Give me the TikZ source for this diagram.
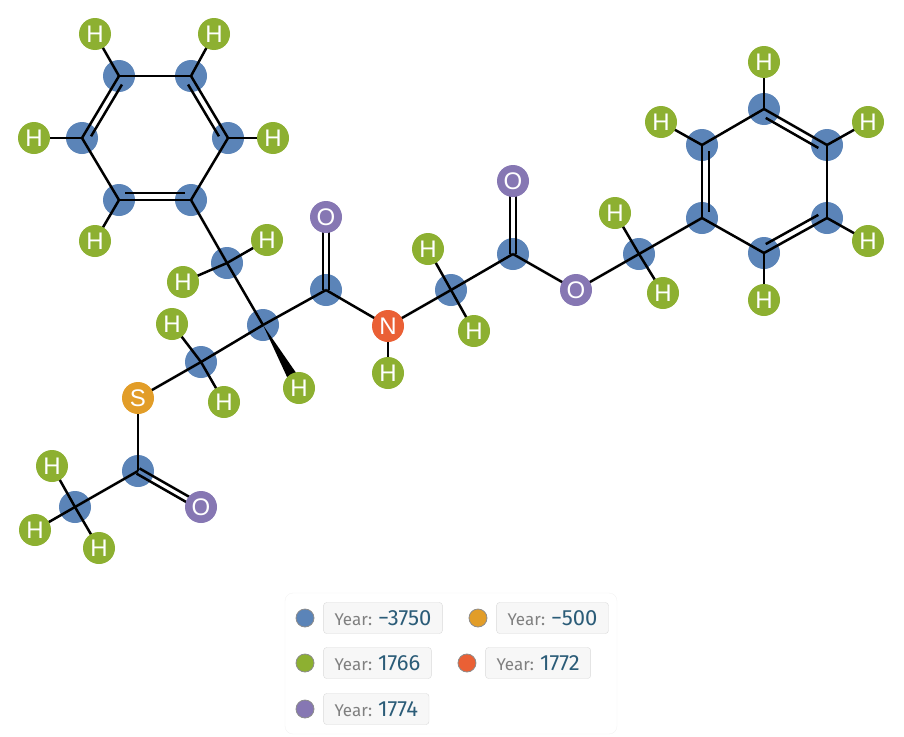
\documentclass[tikz,border=0pt]{standalone}
\usepackage{fontspec}
\usepackage{tikz}
\usetikzlibrary{calc,positioning}
\newfontfamily\atomfont{Liberation Sans}
\newfontfamily\legendfont{Fira Sans}
\definecolor{cblue}{HTML}{5B84B8}
\definecolor{hgreen}{HTML}{8DB031}
\definecolor{opurple}{HTML}{8677B3}
\definecolor{nred}{HTML}{EA6035}
\definecolor{sorange}{HTML}{E29D28}
\definecolor{yeargray}{HTML}{808080}
\definecolor{yearteal}{HTML}{2B5C78}
\pgfdeclarelayer{carbonlayer}
\pgfdeclarelayer{bondlayer}
\pgfsetlayers{carbonlayer,bondlayer,main}

\begin{document}
\begin{tikzpicture}[x=1pt,y=-1pt,
		carbon/.style={circle,fill=cblue,minimum size=32pt,inner sep=0pt},
		atom/.style={circle,minimum size=32pt,inner sep=0pt,text=white,font={\atomfont\fontsize{24}{24}\selectfont}},
		hyd/.style={atom,fill=hgreen},
		oxy/.style={atom,fill=opurple},
		bond/.style={line width=2.5pt,black},
		inner/.style={bond,shorten <=2pt,shorten >=2pt},
		dot/.style={circle,minimum size=18pt,inner sep=0pt,draw=black!45,line width=0.8pt},
		yearbox/.style={rectangle,rounded corners=3pt,draw=black!15,fill=black!3,minimum height=31pt,inner xsep=11pt,anchor=west,font=\legendfont}]
			\useasboundingbox (0,0) rectangle (904,736);
			\coordinate (ringa) at (155,138);
			\coordinate (ringb) at (764,181);
			% carbons, drawn under the bonds
			\begin{pgfonlayer}{carbonlayer}
			\node[carbon] (a1) at (119,76) {};
			\node[carbon] (a2) at (191,76) {};
			\node[carbon] (a3) at (228,138) {};
			\node[carbon] (a4) at (191,200) {};
			\node[carbon] (a5) at (119,200) {};
			\node[carbon] (a6) at (82,138) {};
			\node[carbon] (cb) at (227,263) {};
			\node[carbon] (ca) at (263,325) {};
			\node[carbon] (cco) at (326,290) {};
			\node[carbon] (cg) at (451,290) {};
			\node[carbon] (ce) at (513,254) {};
			\node[carbon] (cz) at (639,254) {};
			\node[carbon] (b1) at (702,218) {};
			\node[carbon] (b2) at (702,145) {};
			\node[carbon] (b3) at (764,109) {};
			\node[carbon] (b4) at (827,145) {};
			\node[carbon] (b5) at (827,218) {};
			\node[carbon] (b6) at (764,253) {};
			\node[carbon] (cs) at (201,362) {};
			\node[carbon] (ct) at (138,471) {};
			\node[carbon] (cm) at (75,507) {};
			\end{pgfonlayer}
			% other atoms
			\node[hyd] (ha1) at (95,34) {H};
			\node[hyd] (ha2) at (214,34) {H};
			\node[hyd] (ha3) at (273,138) {H};
			\node[hyd] (ha5) at (95,241) {H};
			\node[hyd] (ha6) at (34,138) {H};
			\node[hyd] (hb1) at (267,240) {H};
			\node[hyd] (hb2) at (183,282) {H};
			\node[hyd] (hw) at (299,388) {H};
			\node[oxy] (oco) at (326,217) {O};
			\node[atom,fill=nred] (n) at (388,326) {N};
			\node[hyd] (hn) at (388,373) {H};
			\node[hyd] (hg1) at (428,249) {H};
			\node[hyd] (hg2) at (474,331) {H};
			\node[oxy] (oe1) at (513,181) {O};
			\node[oxy] (oe2) at (576,290) {O};
			\node[hyd] (hz1) at (615,213) {H};
			\node[hyd] (hz2) at (663,293) {H};
			\node[hyd] (hr2) at (661,122) {H};
			\node[hyd] (hr3) at (764,62) {H};
			\node[hyd] (hr4) at (868,122) {H};
			\node[hyd] (hr5) at (868,241) {H};
			\node[hyd] (hr6) at (764,300) {H};
			\node[hyd] (hs1) at (172,324) {H};
			\node[hyd] (hs2) at (224,402) {H};
			\node[atom,fill=sorange] (s) at (138,398) {S};
			\node[oxy] (ot) at (201,507) {O};
			\node[hyd] (hm1) at (52,466) {H};
			\node[hyd] (hm2) at (35,530) {H};
			\node[hyd] (hm3) at (99,548) {H};
			\begin{pgfonlayer}{bondlayer}
			% left ring
			\draw[bond] (a1.center) -- (a2.center);
			\draw[bond] (a2.center) -- (a3.center);
			\draw[bond] (a3.center) -- (a4.center);
			\draw[bond] (a4.center) -- (a5.center);
			\draw[bond] (a5.center) -- (a6.center);
			\draw[bond] (a6.center) -- (a1.center);
			\draw[inner] ($(a1.center)!0.11!(ringa)$) -- ($(a6.center)!0.11!(ringa)$);
			\draw[inner] ($(a2.center)!0.11!(ringa)$) -- ($(a3.center)!0.11!(ringa)$);
			\draw[inner] ($(a4.center)!0.11!(ringa)$) -- ($(a5.center)!0.11!(ringa)$);
			\draw[bond] (a1.center) -- (ha1.center);
			\draw[bond] (a2.center) -- (ha2.center);
			\draw[bond] (a3.center) -- (ha3.center);
			\draw[bond] (a5.center) -- (ha5.center);
			\draw[bond] (a6.center) -- (ha6.center);
			% chain
			\draw[bond] (a4.center) -- (cb.center);
			\draw[bond] (cb.center) -- (hb1.center);
			\draw[bond] (cb.center) -- (hb2.center);
			\draw[bond] (cb.center) -- (ca.center);
			\fill (ca.center) -- ($(ca.center)!0.8!(hw.center)!5pt!90:(hw.center)$) -- ($(ca.center)!0.8!(hw.center)!5pt!-90:(hw.center)$) -- cycle;
			\draw[bond] (ca.center) -- (cco.center);
			\draw[bond] ($(cco.center)!3pt!90:(oco.center)$) -- ($(oco.center)!3pt!-90:(cco.center)$);
			\draw[bond] ($(cco.center)!3pt!-90:(oco.center)$) -- ($(oco.center)!3pt!90:(cco.center)$);
			\draw[bond] (cco.center) -- (n.center);
			\draw[bond] (n.center) -- (hn.center);
			\draw[bond] (n.center) -- (cg.center);
			\draw[bond] (cg.center) -- (hg1.center);
			\draw[bond] (cg.center) -- (hg2.center);
			\draw[bond] (cg.center) -- (ce.center);
			\draw[bond] ($(ce.center)!3pt!90:(oe1.center)$) -- ($(oe1.center)!3pt!-90:(ce.center)$);
			\draw[bond] ($(ce.center)!3pt!-90:(oe1.center)$) -- ($(oe1.center)!3pt!90:(ce.center)$);
			\draw[bond] (ce.center) -- (oe2.center);
			\draw[bond] (oe2.center) -- (cz.center);
			\draw[bond] (cz.center) -- (hz1.center);
			\draw[bond] (cz.center) -- (hz2.center);
			\draw[bond] (cz.center) -- (b1.center);
			% right ring
			\draw[bond] (b1.center) -- (b2.center);
			\draw[bond] (b2.center) -- (b3.center);
			\draw[bond] (b3.center) -- (b4.center);
			\draw[bond] (b4.center) -- (b5.center);
			\draw[bond] (b5.center) -- (b6.center);
			\draw[bond] (b6.center) -- (b1.center);
			\draw[inner] ($(b1.center)!0.11!(ringb)$) -- ($(b2.center)!0.11!(ringb)$);
			\draw[inner] ($(b3.center)!0.11!(ringb)$) -- ($(b4.center)!0.11!(ringb)$);
			\draw[inner] ($(b5.center)!0.11!(ringb)$) -- ($(b6.center)!0.11!(ringb)$);
			\draw[bond] (b2.center) -- (hr2.center);
			\draw[bond] (b3.center) -- (hr3.center);
			\draw[bond] (b4.center) -- (hr4.center);
			\draw[bond] (b5.center) -- (hr5.center);
			\draw[bond] (b6.center) -- (hr6.center);
			% thioester side
			\draw[bond] (ca.center) -- (cs.center);
			\draw[bond] (cs.center) -- (hs1.center);
			\draw[bond] (cs.center) -- (hs2.center);
			\draw[bond] (cs.center) -- (s.center);
			\draw[bond] (s.center) -- (ct.center);
			\draw[bond] ($(ct.center)!3pt!90:(ot.center)$) -- ($(ot.center)!3pt!-90:(ct.center)$);
			\draw[bond] ($(ct.center)!3pt!-90:(ot.center)$) -- ($(ot.center)!3pt!90:(ct.center)$);
			\draw[bond] (ct.center) -- (cm.center);
			\draw[bond] (cm.center) -- (hm1.center);
			\draw[bond] (cm.center) -- (hm2.center);
			\draw[bond] (cm.center) -- (hm3.center);
			\end{pgfonlayer}
			% legend
			\draw[black!5,rounded corners=8pt] (285,593) rectangle (617,734);
			\node[dot,fill=cblue] (d1) at (305,618) {};
			\node[yearbox,right=9pt of d1] (y1) {{\color{yeargray}\fontsize{17}{17}\selectfont Year: }{\color{yearteal}\fontsize{22}{22}\selectfont −3750}};
			\node[dot,fill=sorange,right=26pt of y1] (d2) {};
			\node[yearbox,right=9pt of d2] (y2) {{\color{yeargray}\fontsize{17}{17}\selectfont Year: }{\color{yearteal}\fontsize{22}{22}\selectfont −500}};
			\node[dot,fill=hgreen] (d3) at (305,663) {};
			\node[yearbox,right=9pt of d3] (y3) {{\color{yeargray}\fontsize{17}{17}\selectfont Year: }{\color{yearteal}\fontsize{22}{22}\selectfont 1766}};
			\node[dot,fill=nred,right=26pt of y3] (d4) {};
			\node[yearbox,right=9pt of d4] (y4) {{\color{yeargray}\fontsize{17}{17}\selectfont Year: }{\color{yearteal}\fontsize{22}{22}\selectfont 1772}};
			\node[dot,fill=opurple] (d5) at (305,709) {};
			\node[yearbox,right=9pt of d5] (y5) {{\color{yeargray}\fontsize{17}{17}\selectfont Year: }{\color{yearteal}\fontsize{22}{22}\selectfont 1774}};
\end{tikzpicture}
\end{document}
